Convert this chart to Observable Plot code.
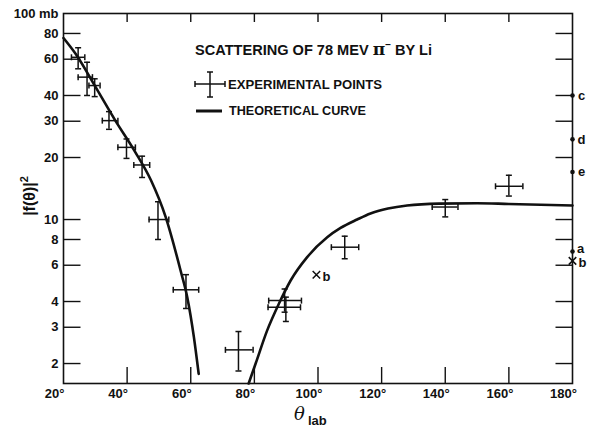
<!DOCTYPE html>
<html><head><meta charset="utf-8">
<script src="https://cdn.jsdelivr.net/npm/d3@7"></script>
<script src="https://cdn.jsdelivr.net/npm/@observablehq/plot@0.6"></script>
<style>
body{margin:0;background:#fff;}
#wrap{position:relative;width:593px;height:430px;color:#111;}
#wrap svg{position:absolute;left:0;top:0;}
</style></head><body><div id="wrap"></div>
<script>
// Experimental points (theta in degrees lab, |f|^2 in mb)
const theta    = [24.6, 27.4, 29.8, 34.3, 39.8, 44.7, 49.7, 58.5, 75.0, 89.5, 89.9, 108.4, 140.0, 160.0];
const value    = [61.3, 49.1, 44.7, 30.2, 22.4, 18.4, 10.0, 4.56, 2.33, 4.04, 3.75, 7.34, 11.5, 14.5];
const thetaLo  = [22.5, 24.6, 28.0, 32.2, 37.1, 42.1, 46.9, 54.5, 70.9, 84.5, 84.3, 104.2, 135.9, 155.8];
const thetaHi  = [26.7, 29.1, 31.5, 37.1, 42.6, 47.1, 53.1, 62.5, 79.6, 94.8, 94.5, 112.8, 144.0, 164.4];
const valueLo  = [53.9, 40.0, 39.5, 27.4, 19.8, 16.0, 8.0, 3.7, 1.84, 3.55, 3.2, 6.45, 10.3, 13.0];
const valueHi  = [68.2, 58.0, 48.2, 33.4, 24.6, 20.3, 12.2, 5.4, 2.86, 4.6, 4.2, 8.3, 12.5, 16.4];

// Theoretical curve, two branches
const curveLeftTheta  = [20, 23.8, 30.1, 36.3, 42.6, 47.5, 52.1, 56.8, 58.9, 61.0, 62.5];
const curveLeftValue  = [76, 63.7, 43.9, 30.2, 21.2, 15.5, 10.3, 5.66, 4.2, 2.68, 1.78];
const curveRightTheta = [78.2, 80.4, 84.0, 87.7, 91.4, 96.6, 102.9, 107.1, 112.3, 116.5, 122, 128, 138, 150, 160, 170, 180];
const curveRightValue = [1.6, 2.0, 2.89, 3.9, 5.06, 6.57, 8.2, 9.1, 10.0, 10.7, 11.3, 11.7, 11.95, 12.0, 11.9, 11.8, 11.7];

// Other marked values
const dotLabels = ["c", "d", "e", "a"];
const dotTheta  = [180, 180, 180, 180];
const dotValue  = [40, 24.5, 17, 7.0];
const crossLabels = ["b", "b"];
const crossTheta  = [99.5, 180];
const crossValue  = [5.4, 6.3];

// Axis ticks
const xTickLabels = [20, 40, 60, 80, 100, 120, 140, 160, 180];
const xInnerTicks = [40, 60, 80, 100, 120, 140, 160];
const yTickMarks  = [2, 3, 4, 6, 8, 10, 20, 30, 40, 60, 80];
const yTickLabels = [2, 3, 4, 6, 8, 10, 20, 30, 40, 60, 80, 100];

const pts = theta.map((t, i) => ({t, v: value[i], tlo: thetaLo[i], thi: thetaHi[i], vlo: valueLo[i], vhi: valueHi[i]}));
const leftCurve = curveLeftTheta.map((t, i) => ({t, v: curveLeftValue[i]}));
const rightCurve = curveRightTheta.map((t, i) => ({t, v: curveRightValue[i]}));
const dots = dotLabels.map((l, i) => ({l, t: dotTheta[i], v: dotValue[i]}));
const crosses = crossLabels.map((l, i) => ({l, t: crossTheta[i], v: crossValue[i]}));

const hcap = {draw(ctx, size){ const r = Math.sqrt(size/Math.PI); ctx.moveTo(-r,0); ctx.lineTo(r,0); }};
const vcap = {draw(ctx, size){ const r = Math.sqrt(size/Math.PI); ctx.moveTo(0,-r); ctx.lineTo(0,r); }};
const tickRightward = {draw(ctx){ ctx.moveTo(0,0); ctx.lineTo(17,0); }};
const tickLeftward  = {draw(ctx){ ctx.moveTo(0,0); ctx.lineTo(-17,0); }};

const F = "Liberation Sans, Arial, sans-serif";
const ink = "#111";

const chart = Plot.plot({
  width: 593, height: 430,
  marginLeft: 63, marginRight: 21, marginTop: 13, marginBottom: 47,
  style: {fontFamily: F, color: ink, background: "white"},
  x: {domain: [20, 180]},
  y: {type: "log", domain: [1.6, 100], axis: null},
  marks: [
    Plot.frame({stroke: ink, strokeWidth: 1.6}),
    // inward y ticks on both sides
    Plot.dot(yTickMarks, {y: d => d, frameAnchor: "left", symbol: tickRightward, stroke: ink, strokeWidth: 1.4}),
    Plot.dot(yTickMarks, {y: d => d, frameAnchor: "right", symbol: tickLeftward, stroke: ink, strokeWidth: 1.4}),
    Plot.text(yTickLabels, {y: d => d, frameAnchor: "left", textAnchor: "end", dx: -5,
      text: d => d === 100 ? "100 mb" : String(d), fontSize: 13, fontWeight: "bold", fill: ink}),
    // inward x ticks
    Plot.axisX(xInnerTicks, {anchor: "bottom", tickSize: 16, dy: -16, tickFormat: () => "", label: null, strokeWidth: 1.4}),
    Plot.axisX(xInnerTicks, {anchor: "top", tickSize: 8, dy: 8, tickFormat: () => "", label: null, strokeWidth: 1.4}),
    Plot.axisX(xTickLabels, {anchor: "bottom", tickSize: 0, tickPadding: 5, dx: -9, label: null,
      tickFormat: d => d + "°", fontSize: 13, fontWeight: "bold"}),
    // error bars
    Plot.ruleY(pts, {y: "v", x1: "tlo", x2: "thi", stroke: ink, strokeWidth: 1.5}),
    Plot.ruleX(pts, {x: "t", y1: "vlo", y2: "vhi", stroke: ink, strokeWidth: 1.5}),
    Plot.dot(pts, {x: "tlo", y: "v", symbol: vcap, r: 3, stroke: ink, strokeWidth: 1.5}),
    Plot.dot(pts, {x: "thi", y: "v", symbol: vcap, r: 3, stroke: ink, strokeWidth: 1.5}),
    Plot.dot(pts, {x: "t", y: "vlo", symbol: hcap, r: 3, stroke: ink, strokeWidth: 1.5}),
    Plot.dot(pts, {x: "t", y: "vhi", symbol: hcap, r: 3, stroke: ink, strokeWidth: 1.5}),
    // theoretical curve
    Plot.line(leftCurve, {x: "t", y: "v", curve: "monotone-x", stroke: ink, strokeWidth: 2.6}),
    Plot.line(rightCurve, {x: "t", y: "v", curve: "monotone-x", stroke: ink, strokeWidth: 2.6}),
    // other values
    Plot.dot(dots, {x: "t", y: "v", r: 2.3, fill: ink}),
    Plot.text(dots, {filter: d => d.l !== "a", x: "t", y: "v", text: "l", dx: 9, fontSize: 13, fontWeight: "bold", fill: ink}),
    Plot.text(dots, {filter: d => d.l === "a", x: "t", y: "v", text: "l", dx: 8, dy: -3, fontSize: 13, fontWeight: "bold", fill: ink}),
    Plot.dot(crosses, {x: "t", y: "v", symbol: "times", r: 3.5, stroke: ink, strokeWidth: 1.5}),
    Plot.text(crosses, {x: "t", y: "v", text: "l", dx: 10, dy: 2, fontSize: 13, fontWeight: "bold", fill: ink})
  ]
});
const wrap = document.getElementById("wrap");
wrap.appendChild(chart);

// Title, legend and axis labels as overlay
const ns = "http://www.w3.org/2000/svg";
const ov = document.createElementNS(ns, "svg");
ov.setAttribute("width", 593); ov.setAttribute("height", 430);
ov.style.pointerEvents = "none";
ov.innerHTML = `
<g font-family="${F}" font-weight="bold" fill="${ink}">
  <text x="195" y="55" font-size="14.5" textLength="237" lengthAdjust="spacingAndGlyphs">SCATTERING OF 78 MEV <tspan font-family="DejaVu Serif" font-size="17">π</tspan><tspan font-size="10" dy="-7">−</tspan><tspan dy="7"> BY Li</tspan></text>
  <g stroke="${ink}" stroke-width="1.5">
    <line x1="195" y1="84" x2="225" y2="84"/>
    <line x1="195" y1="81" x2="195" y2="87"/>
    <line x1="225" y1="81" x2="225" y2="87"/>
    <line x1="210" y1="72" x2="210" y2="97"/>
    <line x1="207" y1="72" x2="213" y2="72"/>
    <line x1="207" y1="97" x2="213" y2="97"/>
    <line x1="196" y1="111" x2="222" y2="111" stroke-width="3"/>
  </g>
  <text x="228" y="88.5" font-size="12" textLength="154" lengthAdjust="spacingAndGlyphs">EXPERIMENTAL POINTS</text>
  <text x="229" y="115" font-size="12" textLength="137" lengthAdjust="spacingAndGlyphs">THEORETICAL CURVE</text>
  <text transform="translate(35,196) rotate(-90)" text-anchor="middle" font-size="16">|f(θ)|<tspan font-size="11" dy="-7">2</tspan></text>
  <text x="294" y="420" font-size="18" font-weight="normal" font-style="italic" font-family="DejaVu Serif">θ</text>
  <text x="308" y="425" font-size="13">lab</text>
</g>`;
wrap.appendChild(ov);
</script>
</body></html>
